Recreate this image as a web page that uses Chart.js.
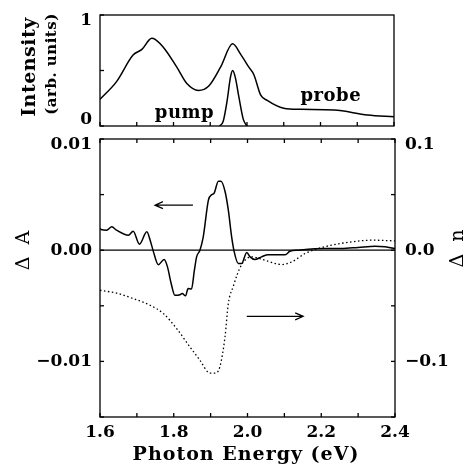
<!DOCTYPE html>
<html>
<head>
<meta charset="utf-8">
<script src="https://cdn.jsdelivr.net/npm/chart.js@4/dist/chart.umd.min.js"></script>
<style>
  body { margin: 0; background: #fff; }
  #wrap { position: relative; width: 470px; height: 471px; }
  #top-chart { position: absolute; left: 0; top: 0; }
  #bottom-chart { position: absolute; left: 0; top: 135px; }
</style>
</head>
<body>
<div id="wrap">
  <canvas id="top-chart" width="470" height="135"></canvas>
  <canvas id="bottom-chart" width="470" height="336"></canvas>
</div>
<script>
'use strict';

// top panel: probe and pump spectra (arb. units)
const probeX = [1.600, 1.645, 1.690, 1.714, 1.741, 1.750, 1.777, 1.809, 1.837, 1.868, 1.896, 1.928,
  1.961, 1.982, 2.005, 2.019, 2.037, 2.055, 2.100, 2.146, 2.237, 2.328, 2.400];
const probeY = [0.24, 0.40, 0.64, 0.69, 0.79, 0.78, 0.69, 0.53, 0.38, 0.32, 0.36, 0.53,
  0.74, 0.65, 0.53, 0.46, 0.28, 0.23, 0.16, 0.15, 0.144, 0.10, 0.084];
const pumpX = [1.925, 1.935, 1.946, 1.955, 1.961, 1.968, 1.978, 1.990, 2.000];
const pumpY = [0, 0.04, 0.23, 0.44, 0.50, 0.44, 0.26, 0.06, 0];

// bottom panel: delta A (left axis) and delta n (right axis)
const dAX = [1.600, 1.603, 1.618, 1.632, 1.645, 1.677, 1.690, 1.707, 1.727, 1.736, 1.745, 1.758,
  1.774, 1.783, 1.793, 1.803, 1.817, 1.823, 1.832, 1.839, 1.848, 1.856, 1.862, 1.871, 1.880,
  1.894, 1.903, 1.909, 1.921, 1.928, 1.939, 1.948, 1.957, 1.964, 1.975, 1.984, 1.998, 2.007,
  2.020, 2.038, 2.056, 2.083, 2.102, 2.115, 2.138, 2.210, 2.255, 2.300, 2.346, 2.373, 2.400];
const dAY = [0.00195, 0.00186, 0.00180, 0.00210, 0.00180, 0.00135, 0.00170, 0.00054, 0.00165,
  0.00090, -0.00015, -0.00130, -0.00084, -0.00150, -0.00300, -0.00405, -0.00400, -0.00390,
  -0.00410, -0.00345, -0.00350, -0.00180, -0.00060, 0.00000, 0.00120, 0.00450, 0.00500,
  0.00510, 0.00620, 0.00620, 0.00530, 0.00360, 0.00120, -0.00015, -0.00120, -0.00120,
  -0.00020, -0.00060, -0.00084, -0.00060, -0.00040, -0.00040, -0.00040, -0.00010, 0.00000,
  0.00015, 0.00015, 0.00025, 0.00036, 0.00030, 0.00015];
const dnX = [1.600, 1.650, 1.690, 1.736, 1.772, 1.808, 1.844, 1.871, 1.898, 1.912, 1.925, 1.939,
  1.948, 1.962, 1.972, 1.984, 1.998, 2.011, 2.047, 2.093, 2.120, 2.156, 2.183, 2.228, 2.283,
  2.337, 2.400];
const dnY = [-0.036, -0.039, -0.0435, -0.0495, -0.057, -0.0706, -0.087, -0.099, -0.1105, -0.1105,
  -0.105, -0.078, -0.048, -0.032, -0.022, -0.013, -0.0075, -0.006, -0.009, -0.0129, -0.0105,
  -0.003, 0.0006, 0.0045, 0.0075, 0.009, 0.0084];

// tick labels; the end labels get an empty line so they sit inside the frame
const intensityTicks = { 0: ['0', ''], 1: ['', '1'] };
const dATicks = { '-10': '\u22120.01', '0': '0.00', '10': ['', '0.01'] };
const dnTicks = { '-100': '\u22120.1', '0': '0.0', '100': ['', '0.1'] };

const FONT = 'DejaVu Serif';
const INK = '#000';

const pts = (xs, ys) => xs.map((x, i) => ({ x, y: ys[i] }));

function drawText(ctx, t) {
  ctx.save();
  ctx.translate(t.x, t.y);
  if (t.rotate) ctx.rotate(-Math.PI / 2);
  ctx.font = t.font;
  ctx.letterSpacing = (t.spacing || 0) + 'px';
  ctx.fillStyle = INK;
  ctx.textAlign = 'center';
  ctx.textBaseline = 'middle';
  ctx.fillText(t.text, 0, 0);
  ctx.restore();
}

// frame round the plot, inward ticks, zero line, arrows and text notes
const framePlugin = {
  id: 'frame',
  beforeDatasetsDraw(chart, args, opts) {
    if (!opts.zeroLine) return;
    const { ctx, chartArea: a } = chart;
    const y = chart.scales.y.getPixelForValue(0);
    ctx.save();
    ctx.strokeStyle = INK;
    ctx.lineWidth = 1.3;
    ctx.beginPath();
    ctx.moveTo(a.left, y);
    ctx.lineTo(a.right, y);
    ctx.stroke();
    ctx.restore();
  },
  afterDraw(chart, args, opts) {
    const { ctx, chartArea: a } = chart;
    ctx.save();
    ctx.strokeStyle = INK;
    ctx.lineWidth = 1.3;
    ctx.strokeRect(a.left, a.top, a.right - a.left, a.bottom - a.top);

    const len = 4;
    (opts.ticks || []).forEach(spec => {
      const scale = chart.scales[spec.scale];
      scale.ticks.forEach(t => {
        const p = scale.getPixelForValue(t.value);
        ctx.beginPath();
        spec.edges.forEach(edge => {
          if (edge === 'bottom') { ctx.moveTo(p, a.bottom); ctx.lineTo(p, a.bottom - len); }
          if (edge === 'top') { ctx.moveTo(p, a.top); ctx.lineTo(p, a.top + len); }
          if (edge === 'left') { ctx.moveTo(a.left, p); ctx.lineTo(a.left + len, p); }
          if (edge === 'right') { ctx.moveTo(a.right, p); ctx.lineTo(a.right - len, p); }
        });
        ctx.stroke();
      });
    });

    (opts.arrows || []).forEach(ar => {
      const sx = chart.scales.x, sy = chart.scales[ar.axis];
      const x1 = sx.getPixelForValue(ar.from), x2 = sx.getPixelForValue(ar.to);
      const y = sy.getPixelForValue(ar.y);
      const dir = x2 > x1 ? 1 : -1;
      ctx.lineWidth = 1.2;
      ctx.beginPath();
      ctx.moveTo(x1, y);
      ctx.lineTo(x2, y);
      ctx.moveTo(x2 - dir * 8, y - 3.5);
      ctx.lineTo(x2, y);
      ctx.lineTo(x2 - dir * 8, y + 3.5);
      ctx.stroke();
    });
    ctx.restore();

    (opts.notes || []).forEach(n => drawText(ctx, {
      text: n.text, font: 'bold 18px "' + FONT + '"', spacing: 0.5,
      x: chart.scales.x.getPixelForValue(n.x), y: chart.scales.y.getPixelForValue(n.y),
    }));
    (opts.titles || []).forEach(t => drawText(ctx, t));
  },
};

const tickFont = { family: FONT, size: 17, weight: 'bold', lineHeight: '12px' };
const noGrid = { display: false, drawTicks: false };
const noPad = (s) => { s.paddingTop = 0; s.paddingBottom = 0; s.paddingLeft = 0; s.paddingRight = 0; };

const xLabel = (v) => {
  const k = Math.round(v * 10);
  return k % 2 === 0 ? (k / 10).toFixed(1) : '';
};

new Chart(document.getElementById('top-chart'), {
  type: 'line',
  data: {
    datasets: [
      { data: pts(probeX, probeY), borderColor: INK, borderWidth: 1.5, pointRadius: 0, cubicInterpolationMode: 'monotone' },
      { data: pts(pumpX, pumpY), borderColor: INK, borderWidth: 1.5, pointRadius: 0, cubicInterpolationMode: 'monotone' },
    ],
  },
  options: {
    responsive: false,
    animation: false,
    layout: { padding: { top: 15, right: 76, left: 0, bottom: 0 } },
    plugins: {
      legend: { display: false },
      tooltip: { enabled: false },
      frame: {
        ticks: [{ scale: 'x', edges: ['bottom'] }, { scale: 'y', edges: ['left'] }],
        notes: [{ text: 'pump', x: 1.83, y: 0.117 }, { text: 'probe', x: 2.228, y: 0.27 }],
        titles: [
          { text: 'Intensity', x: 30, y: 67, rotate: true, font: 'bold 19px "' + FONT + '"', spacing: 0.5 },
          { text: '(arb. units)', x: 52, y: 64, rotate: true, font: 'bold 15px "' + FONT + '"', spacing: 0.5 },
        ],
      },
    },
    scales: {
      x: {
        type: 'linear', min: 1.6, max: 2.4,
        ticks: { stepSize: 0.1, display: false },
        grid: noGrid, border: { display: false },
        afterFit: (s) => { s.height = 9; noPad(s); },
      },
      y: {
        min: 0, max: 1,
        ticks: { stepSize: 0.5, color: INK, font: tickFont, padding: 8,
          callback: (v) => intensityTicks[v] !== undefined ? intensityTicks[v] : '' },
        grid: noGrid, border: { display: false },
        afterFit: (s) => { s.width = 100; noPad(s); },
      },
    },
  },
  plugins: [framePlugin],
});

new Chart(document.getElementById('bottom-chart'), {
  type: 'line',
  data: {
    datasets: [
      { data: pts(dAX, dAY), yAxisID: 'y', borderColor: INK, borderWidth: 1.5, pointRadius: 0, cubicInterpolationMode: 'monotone' },
      { data: pts(dnX, dnY), yAxisID: 'y2', borderColor: INK, borderWidth: 1.3, borderDash: [1.5, 2.5], pointRadius: 0, cubicInterpolationMode: 'monotone' },
    ],
  },
  options: {
    responsive: false,
    animation: false,
    layout: { padding: { top: 4, right: 0, left: 0, bottom: 0 } },
    plugins: {
      legend: { display: false },
      tooltip: { enabled: false },
      frame: {
        zeroLine: true,
        ticks: [{ scale: 'x', edges: ['bottom', 'top'] }, { scale: 'y', edges: ['left'] }, { scale: 'y2', edges: ['right'] }],
        arrows: [
          { axis: 'y', y: 0.00405, from: 1.852, to: 1.749 },
          { axis: 'y2', y: -0.0595, from: 1.998, to: 2.151 },
        ],
        titles: [
          { text: 'Photon Energy (eV)', x: 246, y: 320, font: 'bold 19px "' + FONT + '"', spacing: 1 },
          { text: '\u0394 A', x: 24, y: 114, rotate: true, font: '19px "' + FONT + '"', spacing: 3 },
          { text: '\u0394 n', x: 458, y: 112, rotate: true, font: '19px "' + FONT + '"', spacing: 3 },
        ],
      },
    },
    scales: {
      x: {
        type: 'linear', min: 1.6, max: 2.4,
        ticks: { stepSize: 0.1, color: INK, font: { family: FONT, size: 17, weight: 'bold' }, padding: 5, maxRotation: 0, autoSkip: false, callback: xLabel },
        grid: noGrid, border: { display: false },
        afterFit: (s) => { s.height = 54; noPad(s); },
      },
      y: {
        position: 'left', min: -0.015, max: 0.01,
        ticks: { stepSize: 0.005, color: INK, font: tickFont, padding: 8,
          callback: (v) => { const k = String(Math.round(v * 1000)); return dATicks[k] !== undefined ? dATicks[k] : ''; } },
        grid: noGrid, border: { display: false },
        afterFit: (s) => { s.width = 100; noPad(s); },
      },
      y2: {
        position: 'right', min: -0.15, max: 0.1,
        ticks: { stepSize: 0.05, color: INK, font: tickFont, padding: 10,
          callback: (v) => { const k = String(Math.round(v * 1000)); return dnTicks[k] !== undefined ? dnTicks[k] : ''; } },
        grid: noGrid, border: { display: false },
        afterFit: (s) => { s.width = 75; noPad(s); },
      },
    },
  },
  plugins: [framePlugin],
});
</script>
</body>
</html>
